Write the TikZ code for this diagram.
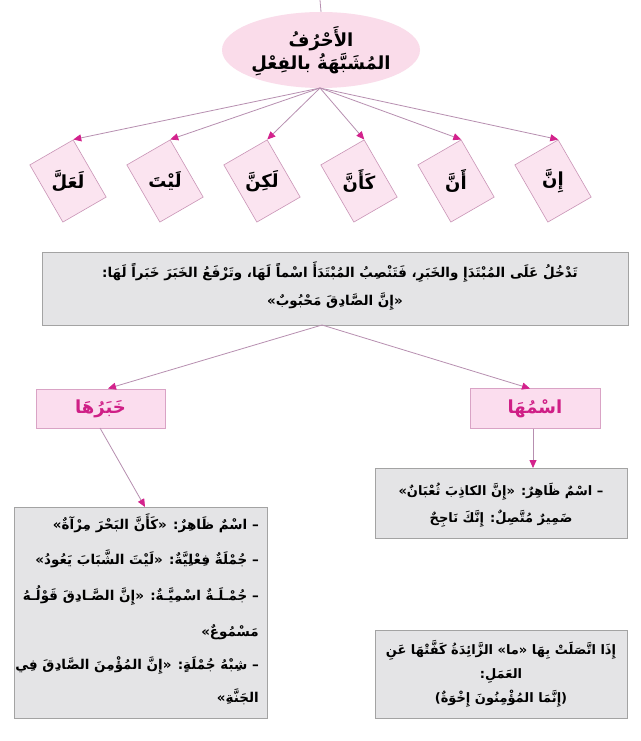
\documentclass[tikz,border=0pt]{standalone}
\usepackage{fontspec}
\newfontfamily\arabicfont[Script=Arabic]{DejaVu Sans}
\TeXXeTstate=1
\usetikzlibrary{arrows.meta,shapes.geometric}
\definecolor{ellc}{HTML}{FADCEA}
\definecolor{diaf}{HTML}{FBE4F0}
\definecolor{diab}{HTML}{C994B6}
\definecolor{connc}{HTML}{B78FB0}
\definecolor{tipc}{HTML}{D3228C}
\definecolor{pinkf}{HTML}{FBDDEE}
\definecolor{pinkb}{HTML}{D9A3C5}
\definecolor{magtext}{HTML}{CF1F86}
\definecolor{grayf}{HTML}{E4E4E6}
\definecolor{grayb}{HTML}{A3A3A3}
\begin{document}
\begin{tikzpicture}[x=1pt,y=-1pt,
  conn/.style={draw=connc, line width=0.8pt, -{Triangle[length=8pt,width=7pt,color=tipc]}},
  plainline/.style={draw=connc, line width=0.8pt},
  dia/.style={draw=diab, fill=diaf, line width=0.6pt, minimum width=50pt, minimum height=66pt, rotate=30, inner sep=0pt},
  pinkbox/.style={draw=pinkb, fill=pinkf, line width=0.7pt, inner sep=0pt},
  graybox/.style={draw=grayb, fill=grayf, line width=0.8pt, inner sep=0pt},
  ar/.style={font=\arabicfont\bfseries\fontsize{13}{16}\selectfont, inner sep=0pt, text height=11pt, text depth=4pt},
  arl/.style={font=\arabicfont\bfseries\fontsize{13.5}{17}\selectfont, inner sep=0pt, text height=12pt, text depth=4pt},
  big/.style={font=\arabicfont\bfseries\fontsize{18}{22}\selectfont, inner sep=0pt},
]
\useasboundingbox (0,0) rectangle (640,741);
\fill[white] (0,0) rectangle (640,741);

% title ellipse
\node[ellipse, fill=ellc, minimum width=198pt, minimum height=76pt, inner sep=0pt] (title) at (321,50) {};
\node[big, align=center] (titletext) at (321,51) {\beginR الأَحْرُفُ\endR\\[1pt]\beginR المُشَبَّهَةُ بالفِعْلِ\endR};
\coordinate (topin) at (320,0);
\draw[plainline] (topin) -- (title.north);
\coordinate (fan1) at (320,88);

% diamonds
\node[dia] (d1) at (68,181) {};
\node[dia] (d2) at (165,181) {};
\node[dia] (d3) at (262,181) {};
\node[dia] (d4) at (359,181) {};
\node[dia] (d5) at (456,181) {};
\node[dia] (d6) at (553,181) {};
\node[big] (t1) at (d1) {\beginR لَعَلَّ\endR};
\node[big] (t2) at (d2) {\beginR لَيْتَ\endR};
\node[big] (t3) at (d3) {\beginR لَكِنَّ\endR};
\node[big] (t4) at (d4) {\beginR كَأَنَّ\endR};
\node[big] (t5) at (d5) {\beginR أَنَّ\endR};
\node[big] (t6) at (d6) {\beginR إِنَّ\endR};
\foreach \d in {d1,d2,d3,d4,d5,d6}
  \draw[conn] (fan1) -- (\d.north east);

% main box
\node[graybox, minimum width=586pt, minimum height=73pt] (main) at (335,288.5) {};
\node[arl] (m1) at (340,273) {\beginR تَدْخُلُ عَلَى المُبْتَدَإِ والخَبَرِ، فَتَنْصِبُ المُبْتَدَأَ اسْماً لَهَا، وتَرْفَعُ الخَبَرَ خَبَراً لَهَا:\endR};
\node[arl] (m2) at (335,301) {\beginR «إِنَّ الصَّادِقَ مَحْبُوبٌ»\endR};
\coordinate (fan2) at (322,325);

% khabar / ism boxes
\node[pinkbox, minimum width=129pt, minimum height=39pt] (khabar) at (100.5,408.5) {};
\node[big, text=magtext] (khabart) at (khabar) {\beginR خَبَرُهَا\endR};
\node[pinkbox, minimum width=130pt, minimum height=40pt] (ism) at (535,408.5) {};
\node[big, text=magtext] (ismt) at (ism) {\beginR اسْمُهَا\endR};
\coordinate (ktip) at (108,388.5);
\coordinate (itip) at (530,388.5);
\draw[conn] (fan2) -- (ktip);
\draw[conn] (fan2) -- (itip);

% right box 1
\node[graybox, minimum width=252pt, minimum height=70pt] (r1) at (501,503) {};
\node[ar] (r1a) at (501,492) {\beginR – اسْمٌ ظَاهِرٌ: «إِنَّ الكاذِبَ ثُعْبَانٌ»\endR};
\node[ar] (r1b) at (501,519) {\beginR ضَمِيرٌ مُتَّصِلٌ: إِنَّكَ نَاجِحٌ\endR};
\coordinate (isrc) at (533,428.5);
\coordinate (r1top) at (533,468);
\draw[conn] (isrc) -- (r1top);

% left box
\node[graybox, minimum width=253pt, minimum height=211pt] (lb) at (140.5,612.5) {};
\node[arl, anchor=east] (l1) at (259,525) {\beginR – اسْمٌ ظَاهِرٌ: «كَأَنَّ البَحْرَ مِرْآةٌ»\endR};
\node[arl, anchor=east] (l2) at (259,560) {\beginR – جُمْلَةٌ فِعْلِيَّةٌ: «لَيْتَ الشَّبَابَ يَعُودُ»\endR};
\node[arl, anchor=east] (l3) at (259,596) {\beginR – جُمْـلَـةٌ اسْمِيَّـةٌ: «إِنَّ الصَّـادِقَ قَوْلُـهُ\endR};
\node[arl, anchor=east] (l4) at (259,632) {\beginR مَسْمُوعٌ»\endR};
\node[arl, anchor=east] (l5) at (259,665) {\beginR – شِبْهُ جُمْلَةٍ: «إِنَّ المُؤْمِنَ الصَّادِقَ فِي\endR};
\node[arl, anchor=east] (l6) at (259,698) {\beginR الجَنَّةِ»\endR};
\coordinate (ksrc) at (100,428);
\coordinate (lbtop) at (145,507);
\draw[conn] (ksrc) -- (lbtop);

% right box 2
\node[graybox, minimum width=252pt, minimum height=88pt] (r2) at (501,674) {};
\node[ar] (r2a) at (501,651) {\beginR إِذَا اتَّصَلَتْ بِهَا «ما» الزَّائِدَةُ كَفَّتْهَا عَنِ\endR};
\node[ar] (r2b) at (501,675) {\beginR العَمَلِ:\endR};
\node[ar] (r2c) at (501,699) {\beginR (إِنَّمَا المُؤْمِنُونَ إِخْوَةٌ)\endR};
\end{tikzpicture}
\end{document}
